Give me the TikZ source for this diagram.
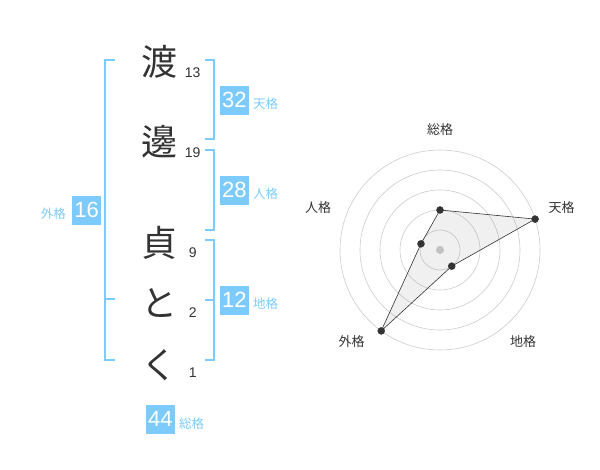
\documentclass[tikz,border=0pt]{standalone}
\usepackage{fontspec}
\setmainfont{Liberation Sans}
\newfontfamily\jp{Noto Sans CJK JP}
\usepackage{tikz}
\usepackage{xcolor}
\definecolor{kakublue}{RGB}{125,203,253}
\definecolor{inkgray}{RGB}{51,51,51}
\definecolor{ringgray}{RGB}{204,204,204}

\begin{document}
\begin{tikzpicture}[x=1pt,y=-1pt]
	\tikzstyle{moji} = [inner sep=0, text=inkgray, font=\jp\fontsize{36}{36}\selectfont]
	\tikzstyle{kaku} = [inner sep=0, text=inkgray, font=\fontsize{14}{14}\selectfont]
	\tikzstyle{numbox} = [fill=kakublue, text=white, minimum size=28.7pt, inner sep=0, font=\fontsize{22}{22}\selectfont]
	\tikzstyle{kakuname} = [inner sep=0, text=kakublue, font=\jp\fontsize{12.5}{12.5}\selectfont]
	\tikzstyle{bracket} = [draw=kakublue, line width=2pt]
	\tikzstyle{axisname} = [inner sep=0, text=inkgray, font=\jp\fontsize{13}{13}\selectfont]
	\useasboundingbox (0,0) rectangle (600,470);
		% name and stroke counts
		\node[moji] (wata) at (159.3,61.7)  {渡};
		\node[moji] (nabe) at (159.3,141.7) {邊};
		\node[moji] (sada) at (159.3,243.3) {貞};
		\node[moji] (to)   at (159.3,303)   {と};
		\node[moji] (ku)   at (159.3,365)   {く};
		\node[kaku] (n13) at (192.7,72.7)  {13};
		\node[kaku] (n19) at (192.7,152.7) {19};
		\node[kaku] (n9)  at (192.7,252.7) {9};
		\node[kaku] (n2)  at (192.7,313)   {2};
		\node[kaku] (n1)  at (192.7,372.7) {1};
		% brackets
		\draw[bracket] (205,60) -- (214.3,60) -- (214.3,139.3) -- (205,139.3);
		\draw[bracket] (205,150) -- (214.3,150) -- (214.3,230) -- (205,230);
		\draw[bracket] (205,240) -- (214.3,240) -- (214.3,360) -- (205,360);
		\draw[bracket] (205,300) -- (214.3,300);
		\draw[bracket] (115,60) -- (105,60) -- (105,360) -- (115,360);
		\draw[bracket] (105,299.3) -- (115,299.3);
		% totals
		\node[numbox] (ten) at (234.3,100.3) {32};
		\node[numbox] (jin) at (234.3,190.3) {28};
		\node[numbox] (chi) at (234.3,300.3) {12};
		\node[numbox] (gai) at (86.7,210.3)  {16};
		\node[numbox] (sou) at (160.3,419.3) {44};
		\node[kakuname] (tenname) at (265.7,104)   {天格};
		\node[kakuname] (jinname) at (265.7,194)   {人格};
		\node[kakuname] (chiname) at (265.7,304)   {地格};
		\node[kakuname] (gainame) at (53.3,214)    {外格};
		\node[kakuname] (souname) at (191.7,423.3) {総格};
	% radar
	\begin{scope}[shift={(440,250)}, y=1pt]
		\foreach \r in {20,40,60,80,100}
			\draw[ringgray, line width=0.6pt] (0,0) circle (\r);
		\fill[ringgray] (0,0) circle (4);
		\node[axisname] (soulab) at (0,120)      {総格};
		\node[axisname] (tenlab) at (121.7,42)   {天格};
		\node[axisname] (chilab) at (83,-91.7)   {地格};
		\node[axisname] (gailab) at (-88.3,-91.7) {外格};
		\node[axisname] (jinlab) at (-122,42)    {人格};
		\coordinate (psou) at (90:40);
		\coordinate (pten) at (18:100);
		\coordinate (pchi) at (-54:20);
		\coordinate (pgai) at (-126:100);
		\coordinate (pjin) at (162:20);
		\filldraw[fill=gray, fill opacity=0.12, draw=inkgray, line width=0.6pt]
			(psou) -- (pten) -- (pchi) -- (pgai) -- (pjin) -- cycle;
		\filldraw[inkgray]
			(psou) circle (3.5)
			(pten) circle (3.5)
			(pchi) circle (3.5)
			(pgai) circle (3.5)
			(pjin) circle (3.5);
	\end{scope}
\end{tikzpicture}
\end{document}
